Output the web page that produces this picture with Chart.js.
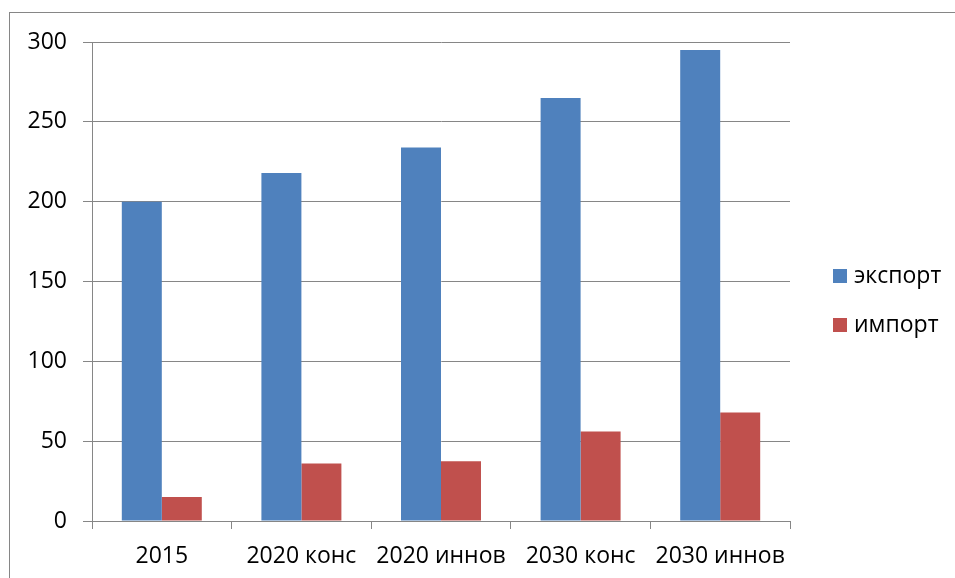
<!DOCTYPE html>
<html>
<head>
<meta charset="utf-8">
<script src="https://cdn.jsdelivr.net/npm/chart.js@4"></script>
<style>
  html, body { margin: 0; padding: 0; background: #fff; }
  #wrap { position: relative; width: 955px; height: 578px; overflow: hidden; }
  #frame { position: absolute; left: 9px; top: 12px; width: 1000px; height: 700px; border: 1px solid #868686; }
  #chart { position: absolute; left: 0; top: 0; }
</style>
</head>
<body>
<div id="wrap">
  <div id="frame"></div>
  <canvas id="chart" width="955" height="578"></canvas>
</div>
<script>
const categories = ['2015', '2020 конс', '2020 иннов', '2030 конс', '2030 иннов'];
const exportValues = [200, 218, 234, 265, 295];
const importValues = [15, 36, 37.5, 56, 68];
const yTicks = [0, 50, 100, 150, 200, 250, 300];

const FONT = { family: '"Open Sans", sans-serif', size: 23 };
const GRID = '#868686';

// legend drawn by hand so it sits where Excel put it
const sideLegend = {
    id: 'sideLegend',
    afterDraw(chart) {
        const c = chart.ctx;
        c.save();
        c.font = FONT.size + 'px ' + FONT.family;
        c.textBaseline = 'middle';
        chart.data.datasets.forEach((ds, i) => {
            const y = 276 + i * 49;
            c.fillStyle = ds.backgroundColor;
            c.fillRect(833, y - 7, 14, 14);
            c.fillStyle = '#000';
            c.fillText(ds.label, 854, y);
        });
        c.restore();
    }
};

const ctx = document.getElementById('chart').getContext('2d');
new Chart(ctx, {
    type: 'bar',
    data: {
        labels: categories,
        datasets: [
            { label: 'экспорт', data: exportValues, backgroundColor: '#4F81BD' },
            { label: 'импорт', data: importValues, backgroundColor: '#C0504D' }
        ]
    },
    options: {
        responsive: false,
        animation: false,
        devicePixelRatio: 1,
        categoryPercentage: 0.573,
        barPercentage: 1,
        layout: { padding: { left: 0, top: 42, right: 165, bottom: 0 } },
        scales: {
            x: {
                grid: { drawOnChartArea: false, color: GRID, tickLength: 8, offset: true },
                border: { color: GRID },
                ticks: { color: '#000', font: FONT, padding: 14, maxRotation: 0 },
                afterFit(scale) { scale.height = 57; }
            },
            y: {
                min: 0,
                max: 300,
                afterBuildTicks(scale) { scale.ticks = yTicks.map(v => ({ value: v })); },
                grid: { color: GRID, tickLength: 9 },
                border: { color: GRID },
                ticks: { color: '#000', font: FONT, padding: 16 },
                afterFit(scale) { scale.width = 92; }
            }
        },
        plugins: {
            legend: { display: false },
            tooltip: { enabled: false }
        }
    },
    plugins: [sideLegend]
});
</script>
</body>
</html>
